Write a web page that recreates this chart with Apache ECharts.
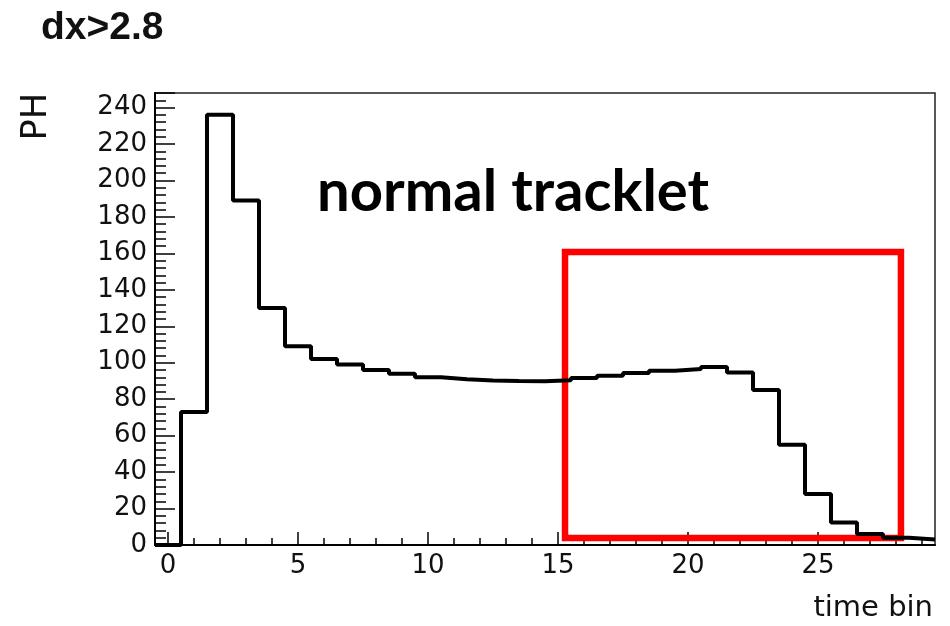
<!DOCTYPE html>
<html>
<head>
<meta charset="utf-8">
<script src="https://cdn.jsdelivr.net/npm/echarts@6/dist/echarts.min.js"></script>
<style>
  html, body { margin: 0; padding: 0; background: #fff; }
  #main { width: 950px; height: 626px; }
</style>
</head>
<body>
<div id="main"></div>
<script>
// time bins (bin centres) and pulse height per bin
var timeBins = [0, 1, 2, 3, 4, 5, 6, 7, 8, 9, 10, 11, 12, 13, 14, 15, 16, 17, 18, 19, 20, 21, 22, 23, 24, 25, 26, 27, 28, 29];
var phValues = [0, 73, 236, 189, 130, 109, 102, 99, 96, 94, 92, 91, 90.3, 90, 89.8, 90.4, 91.6, 92.9, 94.4, 95.6, 96.5, 97.6, 94.7, 85, 55, 28, 12.4, 6, 4, 3];
var xMajorTicks = [0, 5, 10, 15, 20, 25];

// histogram outline: one point per left bin edge, plus the last right edge
var histData = [];
for (var i = 0; i < timeBins.length; i++) {
    histData.push([timeBins[i] - 0.5, phValues[i]]);
}
histData.push([timeBins[timeBins.length - 1] + 0.5, phValues[phValues.length - 1]]);

var tickFont = 'DejaVu Sans';
var myChart = echarts.init(document.getElementById('main'));
var option = {
    animation: false,
    backgroundColor: '#fff',
    grid: {
        left: 155, right: 15, top: 93, bottom: 81,
        show: true, borderColor: '#222', borderWidth: 1.5
    },
    xAxis: [{
        type: 'value',
        min: -0.5, max: 29.5,
        splitLine: {show: false},
        axisLine: {show: true, onZero: false, lineStyle: {color: '#000', width: 2}},
        axisTick: {show: true, inside: true, length: 13, customValues: xMajorTicks, lineStyle: {color: '#000', width: 1.5}},
        axisLabel: {customValues: xMajorTicks, color: '#111', fontFamily: tickFont, fontSize: 26, margin: 8}
    }, {
        type: 'value',
        position: 'bottom',
        min: -0.5, max: 29.5,
        splitLine: {show: false},
        axisLine: {show: false},
        axisTick: {show: true, inside: true, length: 7, customValues: timeBins, lineStyle: {color: '#000', width: 1.5}},
        axisLabel: {show: false}
    }],
    yAxis: {
        type: 'value',
        min: 0, max: 248, interval: 20,
        splitLine: {show: false},
        axisLine: {show: true, onZero: false, lineStyle: {color: '#000', width: 2}},
        axisTick: {show: true, inside: true, length: 20, lineStyle: {color: '#000', width: 1.5}},
        minorTick: {show: true, splitNumber: 5, length: 11, lineStyle: {color: '#000', width: 1.5}},
        axisLabel: {showMaxLabel: false, color: '#111', fontFamily: tickFont, fontSize: 26, margin: 8}
    },
    series: [{
        type: 'line',
        step: 'end',
        data: histData,
        symbol: 'none',
        lineStyle: {color: '#000', width: 4},
        z: 2
    }, {
        // red box marking the late time bins
        type: 'line',
        data: [],
        z: 5,
        markArea: {
            silent: true,
            itemStyle: {color: 'rgba(0,0,0,0)', borderColor: '#ff0000', borderWidth: 6.5},
            data: [[{coord: [15.27, 160.7]}, {coord: [28.19, 3.8]}]]
        }
    }],
    graphic: [{
        type: 'text', left: 41, top: 9,
        style: {text: 'dx>2.8', font: 'bold 39px "Liberation Sans"', fill: '#111'}
    }, {
        type: 'text', x: 37, y: 93, rotation: Math.PI / 2,
        style: {text: 'PH', font: '35px "DejaVu Sans"', fill: '#111', align: 'right', verticalAlign: 'middle'}
    }, {
        type: 'text', x: 933, y: 608,
        style: {text: 'time bin', font: '29px "DejaVu Sans"', fill: '#111', align: 'right', verticalAlign: 'middle'}
    }, {
        type: 'text', x: 317, y: 192,
        style: {text: 'normal tracklet', font: 'bold 58px Lato', fill: '#000', align: 'left', verticalAlign: 'middle'}
    }]
};
myChart.setOption(option);
</script>
</body>
</html>
